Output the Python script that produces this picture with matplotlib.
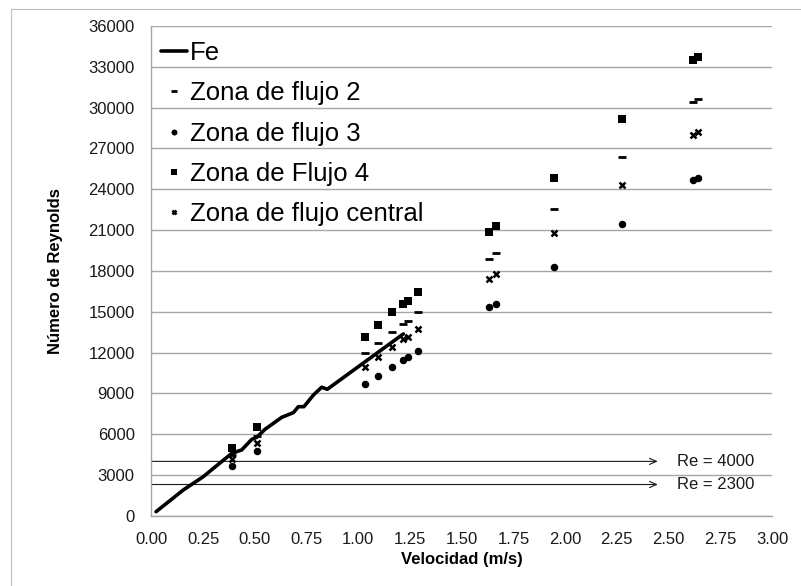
import matplotlib
matplotlib.use("Agg")
import matplotlib.pyplot as plt
from matplotlib.patches import Rectangle

plt.rcParams["font.family"] = ["Liberation Sans", "DejaVu Sans"]

# Fe curve (velocity m/s, Reynolds number)
fe_vel = [0.022, 0.154, 0.250, 0.339, 0.388, 0.436, 0.485, 0.509, 0.549,
          0.630, 0.686, 0.710, 0.737, 0.783, 0.823, 0.850, 1.218]
fe_re = [300, 1900, 2870, 3980, 4590, 4840, 5620, 5770, 6360,
         7240, 7580, 8020, 8020, 8880, 9450, 9300, 13370]

# measured velocities, shared by every flow zone
vel = [0.39, 0.51, 1.03, 1.095, 1.165, 1.217, 1.24, 1.288,
       1.632, 1.664, 1.945, 2.277, 2.62, 2.64]
re_zona2 = [4470, 5830, 11990, 12730, 13530, 14100, 14340, 14960,
            18880, 19290, 22530, 26390, 30450, 30600]
re_zona3 = [3630, 4790, 9690, 10280, 10960, 11450, 11650, 12140,
            15330, 15570, 18270, 21450, 24650, 24800]
re_zona4 = [4960, 6550, 13160, 14020, 14960, 15570, 15810, 16470,
            20880, 21300, 24850, 29170, 33500, 33750]
re_central = [4150, 5370, 10960, 11650, 12390, 12970, 13160, 13710,
              17410, 17770, 20760, 24340, 28000, 28200]

# laminar / turbulent limits
re_limits = [4000, 2300]

x_ticks = [i * 0.25 for i in range(13)]
y_ticks = [i * 3000 for i in range(13)]


def main():
    fig = plt.figure(figsize=(8.01, 5.86), dpi=100)
    ax = fig.add_axes([0.1891, 0.1198, 0.7747, 0.8358])

    grid_c = "#A6A6A6"
    ax.set_xlim(0, 3.0)
    ax.set_ylim(0, 36000)
    ax.set_xticks(x_ticks)
    ax.set_xticklabels([f"{v:.2f}" for v in x_ticks])
    ax.set_yticks(y_ticks)
    ax.set_yticklabels([str(v) for v in y_ticks])
    ax.yaxis.grid(True, color=grid_c, lw=1.0)
    ax.set_axisbelow(True)
    ax.tick_params(length=0, labelsize=12, colors="#1a1a1a")
    ax.tick_params(axis="y", pad=12)
    ax.tick_params(axis="x", pad=12)
    for side in ("top", "right"):
        ax.spines[side].set_visible(False)
    for side in ("left", "bottom"):
        ax.spines[side].set_color(grid_c)
        ax.spines[side].set_linewidth(1.0)

    ax.plot(fe_vel, fe_re, color="black", lw=2.6, solid_capstyle="round",
            label="Fe", zorder=3)
    ax.plot(vel, re_zona2, ls="none", marker="_", ms=6, mew=2.0,
            color="black", label="Zona de flujo 2", zorder=4)
    ax.plot(vel, re_zona3, ls="none", marker="o", ms=5.4, mew=0,
            color="black", label="Zona de flujo 3", zorder=4)
    ax.plot(vel, re_zona4, ls="none", marker="s", ms=5.2, mew=0,
            color="black", label="Zona de Flujo 4", zorder=4)
    ax.plot(vel, re_central, ls="none", marker="x", ms=4.0, mew=1.8,
            color="black", label="Zona de flujo central", zorder=4)

    # arrows marking the Reynolds limits
    for re_val in re_limits:
        ax.annotate("", xy=(2.448, re_val), xytext=(0.0, re_val),
                    arrowprops=dict(arrowstyle="->,head_length=0.5,head_width=0.22",
                                    lw=0.8, color="#1a1a1a",
                                    shrinkA=0, shrinkB=0), zorder=2)
        ax.text(2.54, re_val, f"Re = {re_val}", fontsize=12,
                va="center", ha="left", color="#1a1a1a")

    ax.set_xlabel("Velocidad (m/s)", fontsize=12, fontweight="bold")
    ax.set_ylabel("Número de Reynolds", fontsize=12, fontweight="bold")
    ax.xaxis.set_label_coords(0.5, -0.09)
    ax.yaxis.set_label_coords(-0.155, 0.5)
    ax.yaxis.label.set_va("center")
    ax.xaxis.label.set_va("center")

    ax.legend(loc="upper left", bbox_to_anchor=(0.016, 0.969), frameon=False,
              fontsize=18.5, handlelength=1.0, handletextpad=0.1,
              labelspacing=0.63, borderpad=0, borderaxespad=0,
              markerscale=0.8, numpoints=1)

    # light outline of the chart area
    fig.add_artist(Rectangle((10.5 / 801, -0.05), 1.1, 1.05 - 8.5 / 586,
                             transform=fig.transFigure, fill=False,
                             edgecolor="#BFBFBF", lw=0.8))

    fig.savefig("out.png", dpi=100)


if __name__ == "__main__":
    main()
